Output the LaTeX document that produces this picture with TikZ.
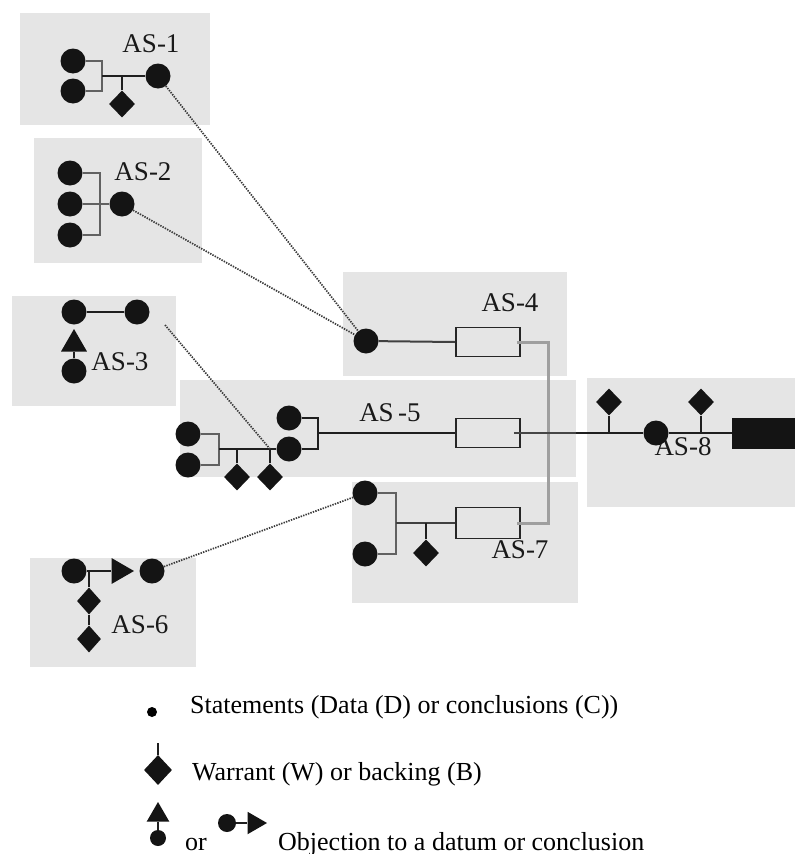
\documentclass[tikz,border=0pt]{standalone}
\usepackage{fontspec}
\setmainfont{Liberation Serif}
\usetikzlibrary{shapes.geometric}
\begin{document}
\begin{tikzpicture}[x=1pt,y=-1pt,
  dot/.style={circle,fill=black!92,inner sep=0pt,minimum size=25pt},
  wbox/.style={diamond,fill=black!92,inner sep=0pt,minimum width=26pt,minimum height=27pt},
  tri/.style={regular polygon,regular polygon sides=3,fill=black!92,inner sep=0pt,minimum size=30pt},
  panel/.style={fill=gray!20},
  ln/.style={line width=1.8pt,black!88},
  br/.style={line width=1.8pt,black!62},
  mid/.style={line width=2pt,gray!50!black},
  thin/.style={line width=1.3pt,gray!55!black},
  trunk/.style={line width=3pt,gray!75},
  link/.style={line width=1.7pt,gray!45!black,dash pattern=on 1.4pt off 1.2pt},
  rectbox/.style={draw=black!85,line width=1.7pt,minimum width=64pt,minimum height=29pt,inner sep=0pt},
  lab/.style={font=\fontsize{27}{30}\selectfont,inner sep=0pt,text=black!90},
  legtext/.style={font=\fontsize{26}{30}\selectfont,inner sep=0pt,anchor=base west},
]
\useasboundingbox (0,0) rectangle (795,854);
\fill[white] (0,0) rectangle (795,854);

% grey panels of the argument structures
\fill[panel] (20,13) rectangle (210,125);   % AS-1
\fill[panel] (34,138) rectangle (202,263);  % AS-2
\fill[panel] (12,296) rectangle (176,406);  % AS-3
\fill[panel] (343,272) rectangle (567,376); % AS-4
\fill[panel] (180,380) rectangle (576,477); % AS-5
\fill[panel] (352,482) rectangle (578,603); % AS-7
\fill[panel] (587,378) rectangle (795,507); % AS-8
\fill[panel] (30,558) rectangle (196,667);  % AS-6

% ---------- AS-1
\node[dot] (a1d1) at (73,61) {};
\node[dot] (a1d2) at (73,91) {};
\node[dot] (a1c) at (158,76) {};
\node[wbox] (a1w) at (122,104) {};
\coordinate (a1b) at (102,76);
\draw[br] (a1d1) -| (a1b) |- (a1d2);
\draw[ln] (a1b) -- (a1c);
\draw[ln] (a1w.north) -- (a1w.north |- a1b);
\node[lab] (a1l) at (151,44) {AS-1};

% ---------- AS-2
\node[dot] (a2d1) at (70,173) {};
\node[dot] (a2d2) at (70,204) {};
\node[dot] (a2d3) at (70,235) {};
\node[dot] (a2c) at (122,204) {};
\coordinate (a2b) at (100,204);
\draw[br] (a2d1) -| (a2b) |- (a2d3);
\draw[br] (a2d2) -- (a2c);
\node[lab] (a2l) at (143,172) {AS-2};

% ---------- AS-3
\node[dot] (a3d1) at (74,312) {};
\node[dot] (a3d2) at (137,312) {};
\node[dot] (a3d3) at (74,371) {};
\node[tri] (a3t) at (74,344) {};
\draw[ln] (a3d1) -- (a3d2);
\draw[ln] (a3d3) -- (a3t.south);
\node[lab] (a3l) at (120,362) {AS-3};
\coordinate (a3e) at (165,325);

% ---------- AS-4
\node[dot] (a4d) at (366,341) {};
\node[rectbox] (a4r) at (488,342) {};
\draw[mid] (a4d) -- (a4r.west);
\node[lab] (a4l) at (510,303) {AS-4};

% ---------- AS-5
\node[dot] (a5d1) at (188,434) {};
\node[dot] (a5d2) at (188,465) {};
\node[dot] (a5d3) at (289,418) {};
\node[dot] (a5d4) at (289,449) {};
\node[wbox] (a5w1) at (237,477) {};
\node[wbox] (a5w2) at (270,477) {};
\coordinate (a5b) at (219,449);
\coordinate (a5c) at (318,433);
\coordinate (a5j) at (270,449);
\draw[br] (a5d1) -| (a5b) |- (a5d2);
\draw[ln] (a5b) -- (a5d4);
\draw[ln] (a5w1.north) -- (a5w1.north |- a5b);
\draw[ln] (a5w2.north) -- (a5j);
\draw[ln] (a5d3) -| (a5c) |- (a5d4);
\node[rectbox] (a5r) at (488,433) {};
\draw[ln] (a5c) -- (a5r.west);
\node[lab] (a5l) at (390,413) {AS\,-5};
\coordinate (a5e) at (576,433);

% ---------- AS-7
\node[dot] (a7d1) at (365,493) {};
\node[dot] (a7d2) at (365,554) {};
\node[rectbox,minimum height=31pt] (a7r) at (488,523) {};
\node[wbox] (a7w) at (426,553) {};
\coordinate (a7b) at (396,523);
\draw[br] (a7d1) -| (a7b) |- (a7d2);
\draw[mid] (a7b) -- (a7r.west);
\draw[ln] (a7w.north) -- (a7w.north |- a7b);
\node[lab] (a7l) at (520,550) {AS-7};

% trunk joining AS-4, AS-5 and AS-7
\coordinate (jn) at (548,433);
\draw[trunk] ([xshift=-4pt]a4r.east) -- (a4r.east -| jn) -- (a7r.east -| jn) -- ([xshift=-4pt]a7r.east);
\draw[thin] ([xshift=-7pt]a5r.east) -- (a5e);

% ---------- AS-8
\node[lab] (a8l) at (683,447) {AS-8};
\node[dot] (a8d) at (656,433) {};
\node[wbox] (a8w1) at (609,402) {};
\node[wbox] (a8w2) at (701,402) {};
\node[fill=black!92,inner sep=0pt,minimum width=64pt,minimum height=31pt] (a8r) at (764,433) {};
\draw[ln] (a5e) -- (a8d);
\draw[ln] (a8d) -- (a8r.west);
\draw[ln] (a8w1.south) -- (a8w1.south |- a8d);
\draw[ln] (a8w2.south) -- (a8w2.south |- a8d);

% ---------- AS-6
\node[dot] (a6d1) at (74,571) {};
\node[dot] (a6d2) at (152,571) {};
\node[tri,regular polygon rotate=-90] (a6t) at (119,571) {};
\node[wbox,minimum width=24pt] (a6w1) at (89,601) {};
\node[wbox,minimum width=24pt] (a6w2) at (89,639) {};
\coordinate (a6j) at (89,571);
\draw[ln] (a6d1) -- (a6t);
\draw[ln] (a6j) -- (a6w1);
\draw[ln] (a6w1) -- (a6w2);
\node[lab] (a6l) at (140,625) {AS-6};

% dotted links between the structures
\draw[link] (a1c) -- (a4d);
\draw[link] (a2c) -- (a4d);
\draw[link] (a3e) -- (a5j);
\draw[link] (a6d2) -- (a7d1);

% ---------- legend
\node[circle,fill=black,inner sep=0pt,minimum size=10pt] (ld) at (152,712) {};
\node[legtext] (lt1) at (190,713) {Statements (Data (D) or conclusions (C))};

\node[diamond,fill=black!92,inner sep=0pt,minimum width=28pt,minimum height=30pt] (lw) at (158,770) {};
\coordinate (lwt) at (158,743);
\draw[ln] (lwt) -- (lw.north);
\node[legtext] (lt2) at (192,780) {Warrant (W) or backing (B)};

\node[regular polygon,regular polygon sides=3,fill=black!92,inner sep=0pt,minimum size=26pt] (lo1) at (158,815) {};
\node[circle,fill=black!92,inner sep=0pt,minimum size=16pt] (lo1d) at (158,838) {};
\draw[ln] (lo1d) -- (lo1.south);
\node[legtext] (lor) at (185,850) {or};
\node[circle,fill=black!92,inner sep=0pt,minimum size=18pt] (lo2d) at (227,823) {};
\node[regular polygon,regular polygon sides=3,regular polygon rotate=-90,fill=black!92,inner sep=0pt,minimum size=26pt] (lo2) at (254,823) {};
\draw[ln] (lo2d) -- (lo2);
\node[legtext] (lt3) at (278,850) {Objection to a datum or conclusion};
\end{tikzpicture}
\end{document}
